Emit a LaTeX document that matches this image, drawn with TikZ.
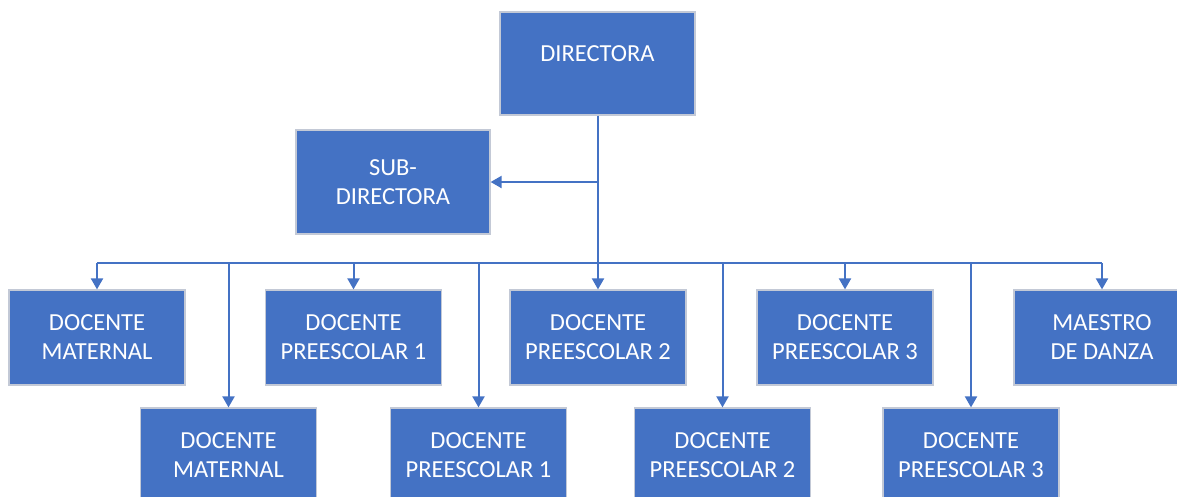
\documentclass[tikz,border=0pt]{standalone}
\usepackage{fontspec}
\setmainfont{Carlito}
\usetikzlibrary{arrows.meta}
\definecolor{boxblue}{HTML}{4472C4}
\definecolor{boxedge}{HTML}{C3C9D6}
\begin{document}
\begin{tikzpicture}[x=1pt,y=-1pt,
  orgbox/.style={fill=boxblue,draw=boxedge,line width=1.2pt,text=white,
    align=center,inner sep=0pt,font=\fontsize{24.5}{29}\selectfont},
  toprow/.style={orgbox,minimum width=176pt,minimum height=95pt},
  conn/.style={draw=boxblue,line width=2pt},
  arr/.style={conn,-{Triangle[width=12pt,length=11pt]}}]
\useasboundingbox (0,0) rectangle (1177,496);
\begin{scope}
\clip (0,0) rectangle (1177,496);
\node[orgbox,minimum width=195pt,minimum height=103pt,text depth=20pt] (dir) at (597.5,63.5) {DIRECTORA};
\node[orgbox,minimum width=194pt,minimum height=104pt] (sub) at (393,182) {SUB-\\DIRECTORA};
\node[toprow] (t1) at (97,337.5) {DOCENTE\\MATERNAL};
\node[toprow] (t2) at (353.5,337.5) {DOCENTE\\PREESCOLAR 1};
\node[toprow] (t3) at (598,337.5) {DOCENTE\\PREESCOLAR 2};
\node[toprow] (t4) at (845,337.5) {DOCENTE\\PREESCOLAR 3};
\node[toprow] (t5) at (1102,337.5) {MAESTRO\\DE DANZA};
\node[toprow] (b1) at (228.5,455.5) {DOCENTE\\MATERNAL};
\node[toprow] (b2) at (478.5,455.5) {DOCENTE\\PREESCOLAR 1};
\node[toprow] (b3) at (722.5,455.5) {DOCENTE\\PREESCOLAR 2};
\node[toprow] (b4) at (971,455.5) {DOCENTE\\PREESCOLAR 3};
\coordinate (bus) at (597,263);
\draw[conn] (dir.south) -- (dir.south |- bus);
\draw[arr] (dir.south |- sub.east) -- (sub.east);
\draw[conn] (t1.north |- bus) -- (t5.north |- bus);
\foreach \n in {t1,t2,t3,t4,t5,b1,b2,b3,b4}
  \draw[arr] (\n.north |- bus) -- (\n.north);
\end{scope}
\end{tikzpicture}
\end{document}
